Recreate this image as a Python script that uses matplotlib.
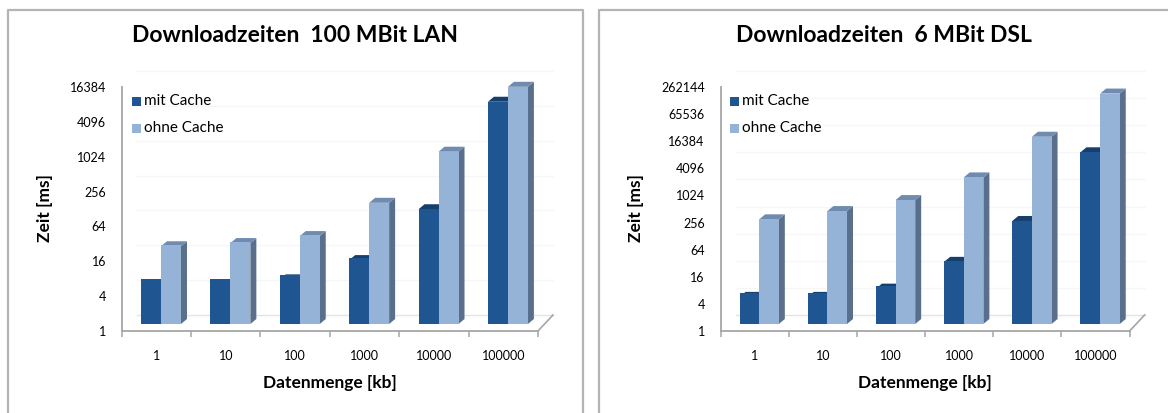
import numpy as np
import matplotlib
matplotlib.use("Agg")
import matplotlib.pyplot as plt
from matplotlib.patches import Polygon, Rectangle
from matplotlib.lines import Line2D
from matplotlib.transforms import offset_copy

# ---- data ----------------------------------------------------------------
categories = ["1", "10", "100", "1000", "10000", "100000"]
series_names = ["mit Cache", "ohne Cache"]

lan_mit = [4.9, 4.9, 5.9, 12.7, 96, 6900]
lan_ohne = [22, 25, 33, 124, 946, 12500]

dsl_mit = [4.0, 4.0, 6.1, 24, 194, 6500]
dsl_ohne = [211, 322, 565, 1800, 14400, 131000]

lan_ticks = [1, 4, 16, 64, 256, 1024, 4096, 16384]
dsl_ticks = [1, 4, 16, 64, 256, 1024, 4096, 16384, 65536, 262144]

titles = ["Downloadzeiten  100 MBit LAN", "Downloadzeiten  6 MBit DSL"]
xlabel = "Datenmenge [kb]"
ylabel = "Zeit [ms]"

# ---- style ---------------------------------------------------------------
FONT = "Lato"
W, H = 1168, 413
DPI = 100

front_cols = ["#1f5591", "#95b3d7"]
top_cols = ["#173f6c", "#6f8bb0"]
side_cols = ["#143a63", "#5a6f8b"]
axis_col = "#a6a6a6"

BAR_W = 0.288          # width of one bar in category units
BAR_DX, BAR_DY = 4.6, 7.0     # bars sit halfway into the floor (pixels)
SIDE_DX, SIDE_DY = 6.0, 5.0   # depth of each bar (pixels)
WALL_DX, WALL_DY = 15.0, 16.0  # depth of floor / back wall (pixels)

fig = plt.figure(figsize=(W / DPI, H / DPI), dpi=DPI)
fig.patch.set_facecolor("white")


def fx(px):
    return px / W


def fy(py):
    return 1 - py / H


# panel frames
for (x0, x1) in [(8, 582.7), (599, 1172)]:
    fig.add_artist(Line2D([fx(x0), fx(x0), fx(x1), fx(x1)],
                          [fy(420), fy(10), fy(10), fy(420)],
                          color="#b4b4b4", lw=1.6, transform=fig.transFigure))

panels = [
    dict(ax_px=(121.7, 538.0), mit=lan_mit, ohne=lan_ohne, ticks=lan_ticks,
         title=titles[0], title_x=295, ylab_x=45, leg_x=132),
    dict(ax_px=(720.5, 1129.6), mit=dsl_mit, ohne=dsl_ohne, ticks=dsl_ticks,
         title=titles[1], title_x=884, ylab_x=636, leg_x=730),
]

Y_TOP, Y_BOT = 87.0, 331.0

for p in panels:
    x0, x1 = p["ax_px"]
    ax = fig.add_axes([fx(x0), fy(Y_BOT), fx(x1 - x0), (Y_BOT - Y_TOP) / H])
    ax.set_facecolor("none")
    ax.set_yscale("log", base=2)
    ax.set_xlim(-0.5, len(categories) - 0.5)
    ax.set_ylim(p["ticks"][0], p["ticks"][-1])

    for s in ["top", "right"]:
        ax.spines[s].set_visible(False)
    for s in ["left", "bottom"]:
        ax.spines[s].set_color(axis_col)
        ax.spines[s].set_linewidth(1.3)

    ax.set_yticks(p["ticks"])
    ax.set_yticklabels([str(t) for t in p["ticks"]], fontsize=9, family=FONT)
    ax.yaxis.set_minor_locator(plt.NullLocator())
    ax.tick_params(axis="y", length=0, pad=11.3, colors="black")

    ax.set_xticks(np.arange(len(categories)))
    ax.set_xticklabels(categories, fontsize=9, family=FONT)
    ax.set_xticks(np.arange(len(categories) + 1) - 0.5, minor=True)
    ax.tick_params(axis="x", which="major", length=0, pad=14)
    ax.tick_params(axis="x", which="minor", length=4.5, width=1.1,
                   color=axis_col, direction="out")

    fig.canvas.draw()
    T = ax.transData
    inv = T.inverted()

    # back wall gridlines and floor
    xa, ya = T.transform((-0.5, p["ticks"][0]))
    xb, _ = T.transform((len(categories) - 0.5, p["ticks"][0]))
    for t in p["ticks"][1:]:
        _, yt = T.transform((0, t))
        pts = inv.transform([(xa + WALL_DX, yt + WALL_DY), (xb + WALL_DX, yt + WALL_DY)])
        ax.plot(pts[:, 0], pts[:, 1], color="#f6f6f6", lw=1.0, zorder=0.5,
                clip_on=False)
    pts = inv.transform([(xa + WALL_DX, ya + WALL_DY), (xb + WALL_DX, ya + WALL_DY)])
    ax.plot(pts[:, 0], pts[:, 1], color="#e4e4e4", lw=1.0, zorder=0.6, clip_on=False)
    pts = inv.transform([(xb, ya), (xb + WALL_DX, ya + WALL_DY)])
    ax.plot(pts[:, 0], pts[:, 1], color=axis_col, lw=1.2, zorder=0.6, clip_on=False)

    # bars: front faces through ax.bar, depth faces from the same values
    shifted = offset_copy(T, fig=fig, x=BAR_DX, y=BAR_DY, units="dots")
    xs = np.arange(len(categories))
    for k, vals in enumerate([p["mit"], p["ohne"]]):
        centers = xs + (k - 0.5) * BAR_W
        bars = ax.bar(centers, vals, width=BAR_W, bottom=p["ticks"][0],
                      color=front_cols[k], edgecolor="none", zorder=3 + 2 * k,
                      clip_on=False)
        for b in bars:
            b.set_transform(shifted)
        for c, v in zip(centers, vals):
            xl, yb = T.transform((c - BAR_W / 2, p["ticks"][0]))
            xr, yt = T.transform((c + BAR_W / 2, v))
            xl += BAR_DX; xr += BAR_DX; yb += BAR_DY; yt += BAR_DY
            side = [(xr, yb), (xr + SIDE_DX, yb + SIDE_DY),
                    (xr + SIDE_DX, yt + SIDE_DY), (xr, yt)]
            top = [(xl, yt), (xr, yt), (xr + SIDE_DX, yt + SIDE_DY),
                   (xl + SIDE_DX, yt + SIDE_DY)]
            ax.add_patch(Polygon(inv.transform(side), closed=True,
                                 facecolor=side_cols[k], edgecolor="none",
                                 zorder=2 + 2 * k, clip_on=False))
            ax.add_patch(Polygon(inv.transform(top), closed=True,
                                 facecolor=top_cols[k], edgecolor="none",
                                 zorder=2 + 2 * k, clip_on=False))

    # titles and axis labels
    fig.text(fx(p["title_x"]), fy(35), p["title"], ha="center", va="center",
             fontsize=16.5, fontweight="bold", family=FONT)
    fig.text(fx((x0 + x1) / 2), fy(383), xlabel, ha="center", va="center",
             fontsize=12.5, fontweight="bold", family=FONT)
    fig.text(fx(p["ylab_x"]), fy(208), ylabel, ha="center", va="center",
             rotation=90, fontsize=12.5, fontweight="bold", family=FONT)

    # legend
    for k, name in enumerate(series_names):
        yc = 101 + 27 * k
        fig.add_artist(Rectangle((fx(p["leg_x"]), fy(yc + 4.5)), fx(9), 9 / H,
                                 facecolor=front_cols[k], edgecolor="none",
                                 transform=fig.transFigure))
        fig.text(fx(p["leg_x"] + 12), fy(yc), name, ha="left", va="center",
                 fontsize=11, family=FONT)

fig.savefig("out.png", dpi=DPI, facecolor="white")
